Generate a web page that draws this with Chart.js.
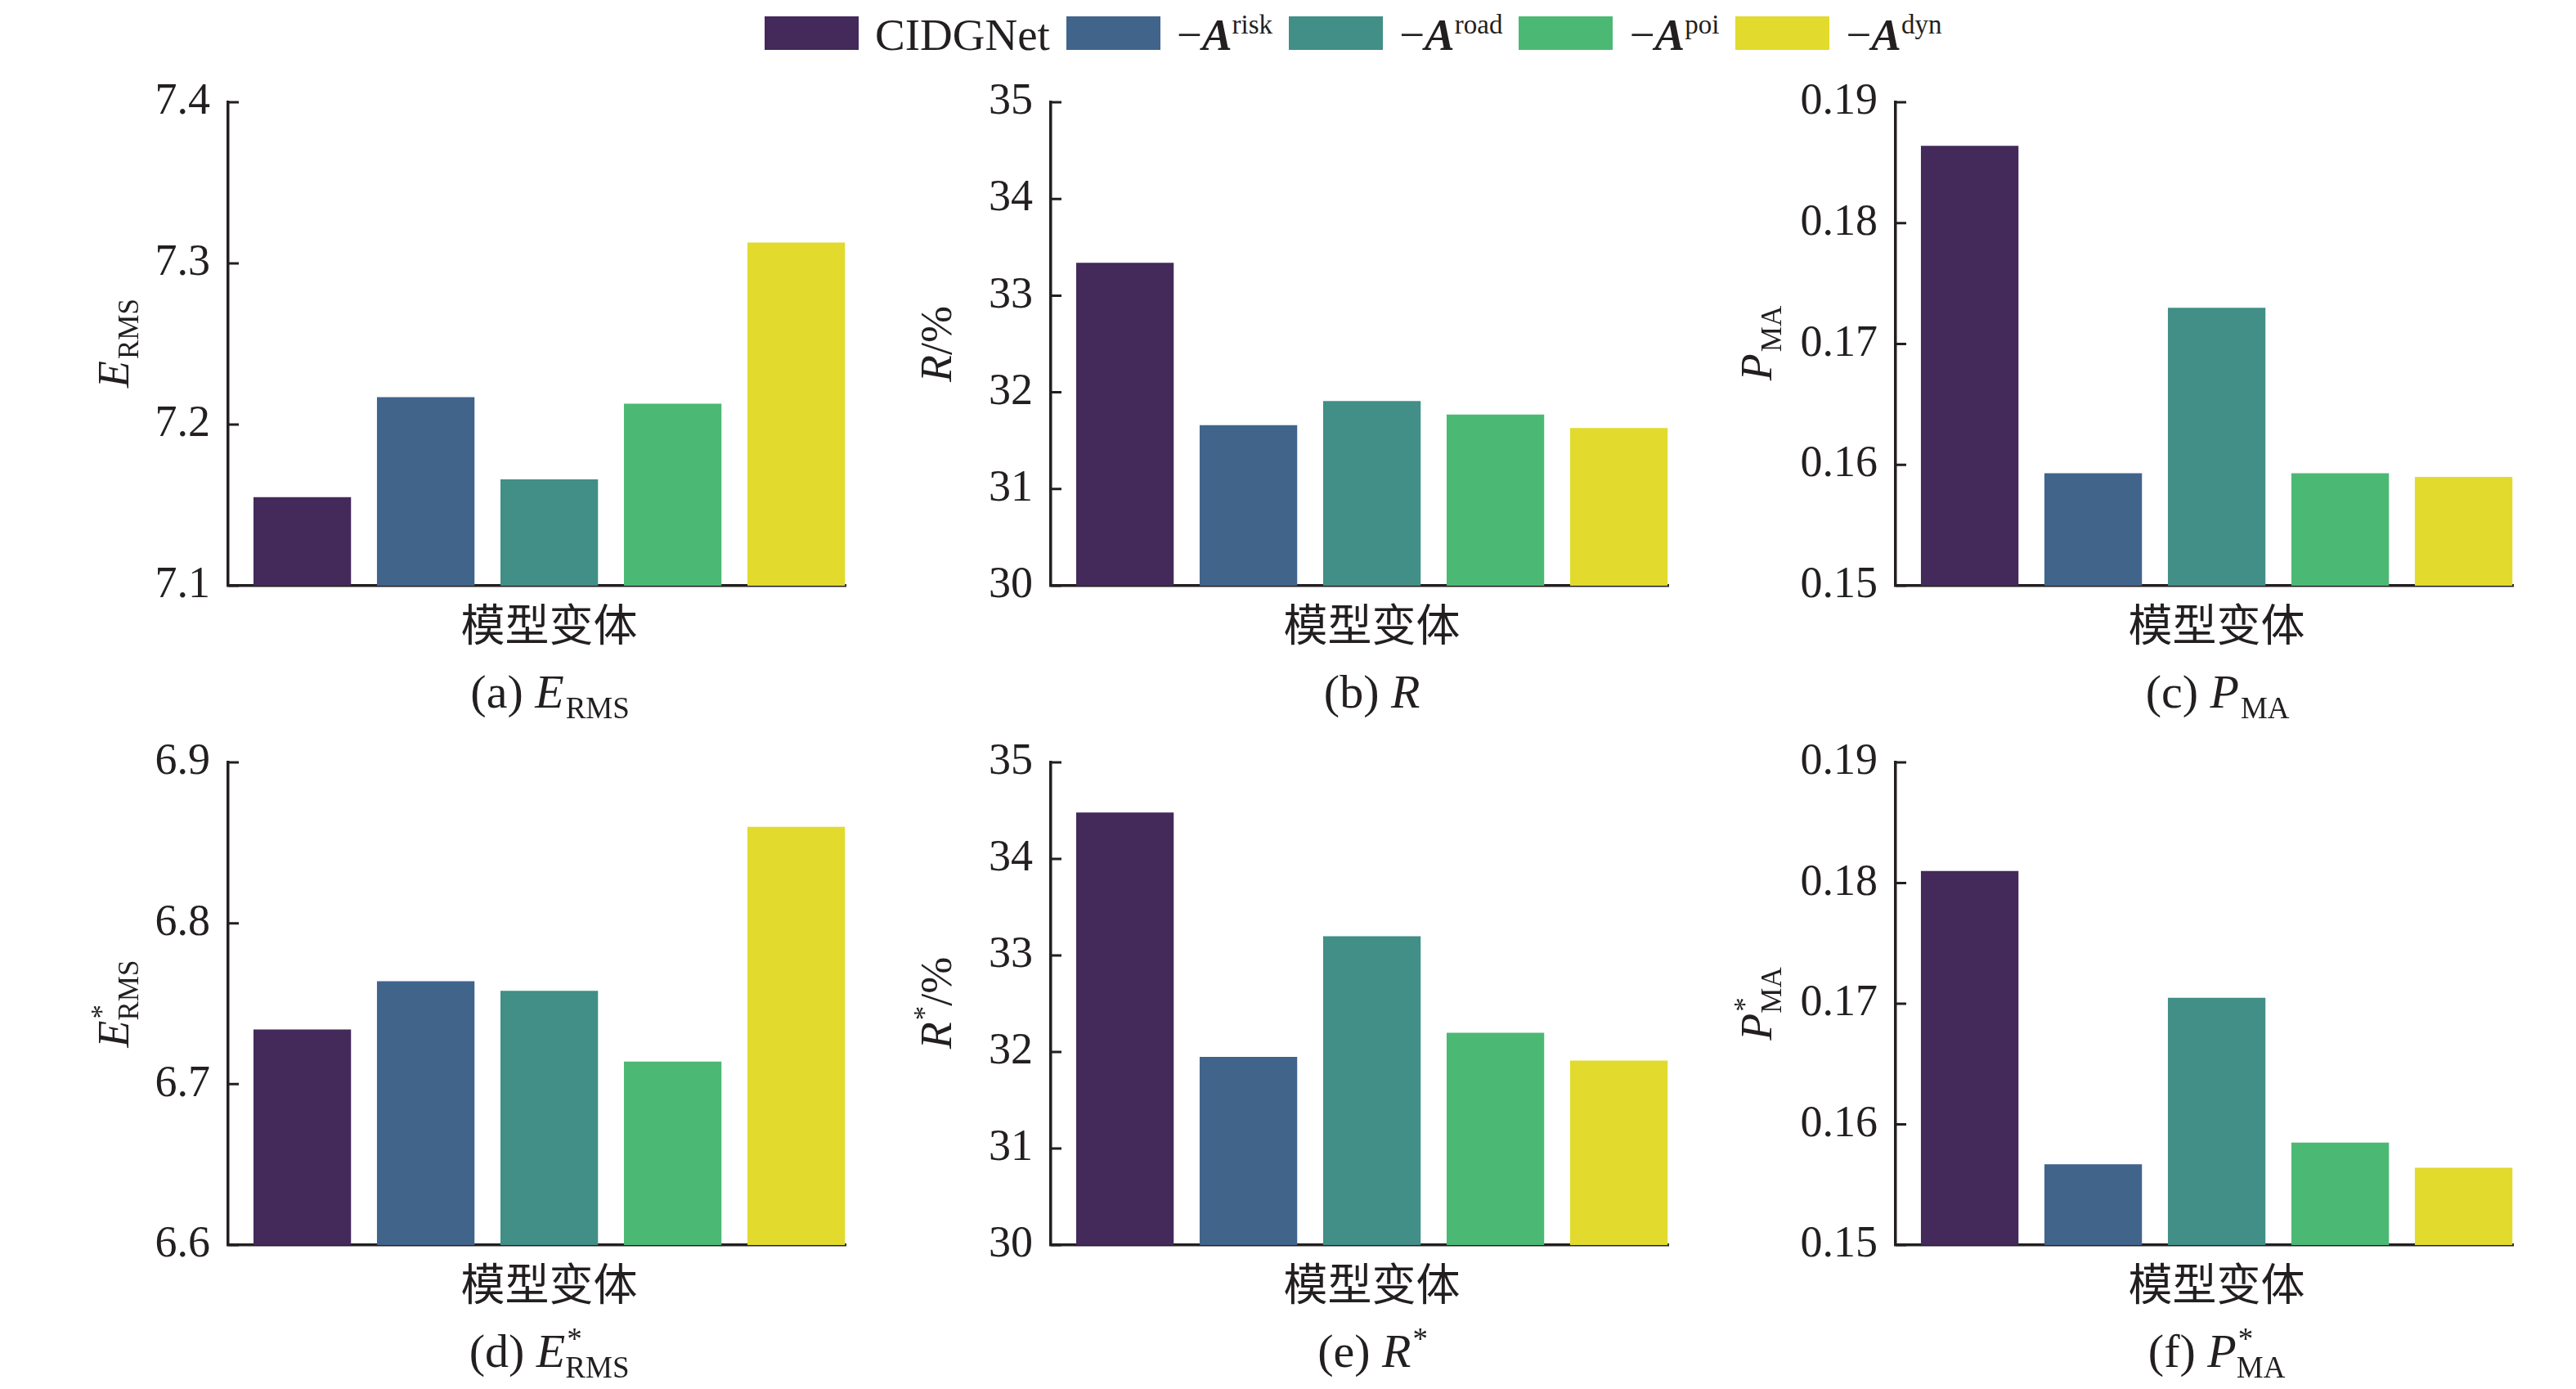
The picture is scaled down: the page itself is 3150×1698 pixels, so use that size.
<!DOCTYPE html>
<html>
<head>
<meta charset="utf-8">
<script src="https://cdn.jsdelivr.net/npm/chart.js@4.4.1/dist/chart.umd.min.js"></script>
<style>
  html, body { margin: 0; padding: 0; background: #fff; }
  body { width: 3150px; height: 1698px; position: relative; overflow: hidden;
         font-family: "Liberation Serif", "Times New Roman", serif; color: #231f20; }
  .panel { position: absolute; }
  #legend { position: absolute; left: 935px; top: 20px; height: 41px; display: flex; align-items: center;
            font-size: 55px; white-space: nowrap; }
  .sw { display: inline-block; width: 115px; height: 41px; margin-right: 20px; }
  .lab { margin-right: 20px; line-height: 1; position: relative; top: 2px; }
  .lab sup { font-size: 33px; vertical-align: 0; position: relative; top: -20px; }
</style>
</head>
<body>
<div id="legend"></div>
<script>
// modelvarianten
const variants = ['CIDGNet', '−A risk', '−A road', '−A poi', '−A dyn'];
const legendBase = ['CIDGNet', '−A', '−A', '−A', '−A'];
const legendSup = ['', 'risk', 'road', 'poi', 'dyn'];
const barColors = ['#432a5a', '#41648b', '#418f86', '#4bb974', '#e2da2d'];

const ermsVals = [7.155, 7.217, 7.166, 7.213, 7.313];
const rVals = [33.34, 31.66, 31.91, 31.77, 31.63];
const pmaVals = [0.1864, 0.1593, 0.1730, 0.1593, 0.1590];
const ermsStarVals = [6.734, 6.764, 6.758, 6.714, 6.860];
const rStarVals = [34.48, 31.95, 33.20, 32.20, 31.91];
const pmaStarVals = [0.1810, 0.1567, 0.1705, 0.1585, 0.1564];

const xTitle = '模型变体';
const ink = '#231f20';
const serif = '"Liberation Serif", "Times New Roman", serif';

Chart.defaults.font.family = serif;
Chart.defaults.color = ink;

const panels = [
  { vals: ermsVals, min: 7.1, max: 7.4, step: 0.1, dec: 1,
    ytitle: [{ t: 'E', i: true }, { t: 'RMS', pos: 'sub' }],
    caption: [{ t: '(a) ' }, { t: 'E', i: true }, { t: 'RMS', pos: 'sub' }] },
  { vals: rVals, min: 30, max: 35, step: 1, dec: 0,
    ytitle: [{ t: 'R', i: true }, { t: '/%' }],
    caption: [{ t: '(b) ' }, { t: 'R', i: true }] },
  { vals: pmaVals, min: 0.15, max: 0.19, step: 0.01, dec: 2,
    ytitle: [{ t: 'P', i: true }, { t: 'MA', pos: 'sub' }],
    caption: [{ t: '(c) ' }, { t: 'P', i: true }, { t: 'MA', pos: 'sub' }] },
  { vals: ermsStarVals, min: 6.6, max: 6.9, step: 0.1, dec: 1,
    ytitle: [{ t: 'E', i: true }, { t: '*', pos: 'sup', keep: true }, { t: 'RMS', pos: 'sub' }],
    caption: [{ t: '(d) ' }, { t: 'E', i: true }, { t: '*', pos: 'sup', keep: true }, { t: 'RMS', pos: 'sub' }] },
  { vals: rStarVals, min: 30, max: 35, step: 1, dec: 0,
    ytitle: [{ t: 'R', i: true }, { t: '*', pos: 'sup' }, { t: '/%' }],
    caption: [{ t: '(e) ' }, { t: 'R', i: true }, { t: '*', pos: 'sup' }] },
  { vals: pmaStarVals, min: 0.15, max: 0.19, step: 0.01, dec: 2,
    ytitle: [{ t: 'P', i: true }, { t: '*', pos: 'sup', keep: true }, { t: 'MA', pos: 'sub' }],
    caption: [{ t: '(f) ' }, { t: 'P', i: true }, { t: '*', pos: 'sup', keep: true }, { t: 'MA', pos: 'sub' }] }
];

// legenda bovenaan
const legend = document.getElementById('legend');
legendBase.forEach((name, i) => {
  const sw = document.createElement('span');
  sw.className = 'sw';
  sw.style.background = barColors[i];
  const lab = document.createElement('span');
  lab.className = 'lab';
  if (legendSup[i]) {
    lab.innerHTML = '−<b><i>A</i></b><sup>' + legendSup[i] + '</sup>';
  } else {
    lab.textContent = name;
  }
  legend.appendChild(sw);
  legend.appendChild(lab);
});

// tekst met sub/superscript
function drawRich(ctx, segs, cx, cy, size, rotated) {
  const small = Math.round(size * 0.64);
  const fontOf = s => (s.i ? 'italic ' : '') + (s.pos ? small : size) + 'px ' + serif;
  const widths = [];
  let total = 0;
  segs.forEach(s => {
    ctx.font = fontOf(s);
    const w = ctx.measureText(s.t).width;
    widths.push(w);
    if (!s.keep) total += w;
  });
  ctx.save();
  ctx.translate(cx, cy);
  if (rotated) ctx.rotate(-Math.PI / 2);
  ctx.textAlign = 'left';
  ctx.textBaseline = 'alphabetic';
  let x = -total / 2;
  const base = size * 0.33;
  segs.forEach((s, k) => {
    ctx.font = fontOf(s);
    const dy = s.pos === 'sub' ? size * 0.22 : s.pos === 'sup' ? -size * 0.38 : 0;
    const dx = s.pos && k > 0 && segs[k - 1].i ? 2 : 0;
    ctx.fillText(s.t, x + dx, base + dy);
    if (!s.keep) x += widths[k] + dx;
  });
  ctx.restore();
}

// ticks naar binnen, titels en onderschriften
const panelDecor = {
  id: 'panelDecor',
  afterDraw(chart, args, o) {
    const { ctx, chartArea: a } = chart;
    const ys = chart.scales.y;
    const xs = chart.scales.x;
    ctx.save();
    ctx.strokeStyle = ink;
    ctx.lineWidth = 3;
    ctx.beginPath();
    ys.ticks.forEach((t, i) => {
      const py = ys.getPixelForTick(i);
      ctx.moveTo(a.left, py);
      ctx.lineTo(a.left + 13, py);
    });
    ctx.stroke();
    ctx.fillStyle = ink;
    const mid = xs.getPixelForValue(2);
    ctx.font = '54px "Noto Sans CJK SC"';
    ctx.textAlign = 'center';
    ctx.textBaseline = 'middle';
    ctx.fillText(o.xtitle, mid, a.bottom + 47);
    drawRich(ctx, o.caption, mid, a.bottom + 130, 58, false);
    drawRich(ctx, o.ytitle, a.left - o.yoff, (a.top + a.bottom) / 2, 54, true);
    ctx.restore();
  }
};

const AXIS_W = 240, PAD_TOP = 62, PAD_RIGHT = 20, PLOT_W = 755;
const colLeft = [279, 1285, 2318];
const rows = [
  { top: 125, bottom: 716, below: 170 },
  { top: 932, bottom: 1522, below: 176 }
];
const yTitleOff = [140, 140, 170];

panels.forEach((p, k) => {
  const col = k % 3;
  const row = rows[Math.floor(k / 3)];
  const div = document.createElement('div');
  div.className = 'panel';
  div.style.left = (colLeft[col] - AXIS_W) + 'px';
  div.style.top = (row.top - PAD_TOP) + 'px';
  div.style.width = (AXIS_W + PLOT_W + PAD_RIGHT) + 'px';
  div.style.height = (PAD_TOP + row.bottom - row.top + row.below) + 'px';
  const cv = document.createElement('canvas');
  div.appendChild(cv);
  document.body.appendChild(div);

  new Chart(cv, {
    type: 'bar',
    data: {
      labels: variants,
      datasets: [{
        data: p.vals.map((v, i) => ({ x: i, y: v })),
        backgroundColor: barColors,
        borderWidth: 0,
        barPercentage: 0.79,
        categoryPercentage: 1
      }]
    },
    options: {
      responsive: true,
      maintainAspectRatio: false,
      animation: false,
      layout: { padding: { top: PAD_TOP, right: PAD_RIGHT, left: 0, bottom: 0 } },
      plugins: {
        legend: { display: false },
        tooltip: { enabled: false },
        panelDecor: { xtitle: xTitle, caption: p.caption, ytitle: p.ytitle, yoff: yTitleOff[col] }
      },
      scales: {
        x: {
          type: 'linear',
          min: -0.6,
          max: 4.4,
          offset: false,
          grid: { display: false, drawTicks: false, offset: false },
          border: { display: true, color: ink, width: 3.5 },
          ticks: { display: false },
          // one tick per bar so the bar width follows the category spacing
          afterBuildTicks: s => { s.ticks = p.vals.map((v, i) => ({ value: i })); },
          afterFit: s => { s.height = row.below; }
        },
        y: {
          min: p.min,
          max: p.max,
          grid: { display: false, drawTicks: false, tickLength: 0 },
          border: { display: true, color: ink, width: 3.5 },
          ticks: {
            stepSize: p.step,
            padding: 22,
            color: ink,
            font: { family: serif, size: 54 },
            callback: v => Number(v).toFixed(p.dec)
          },
          afterFit: s => { s.width = AXIS_W; }
        }
      }
    },
    plugins: [panelDecor]
  });
});
</script>
</body>
</html>
